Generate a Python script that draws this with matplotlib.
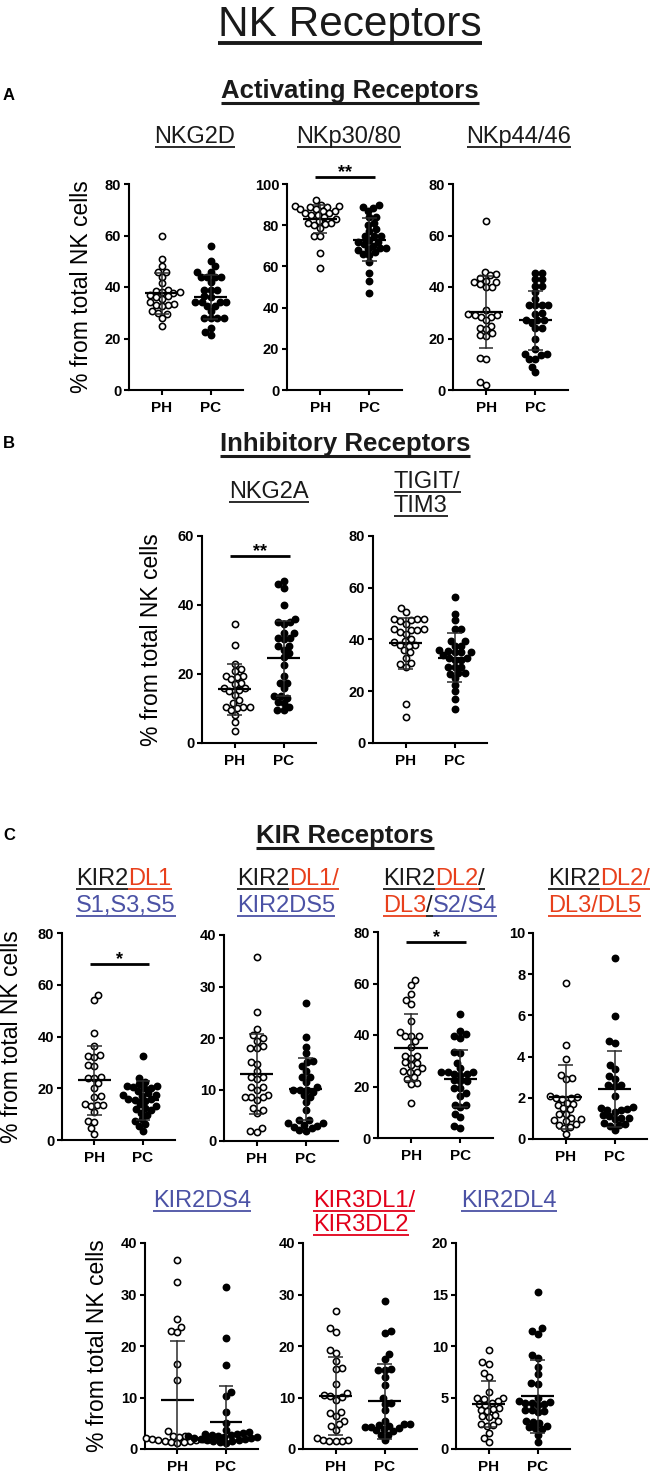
import numpy as np
import matplotlib
matplotlib.use('Agg')
import matplotlib.pyplot as plt
from matplotlib.lines import Line2D

W, H = 650, 1472
plt.rcParams['font.family'] = ['Liberation Sans', 'DejaVu Sans']

groups = ['PH', 'PC']
RED = '#e8401c'
RED2 = '#e2001a'
BLUE = '#4b52a5'

# values (% from total NK cells), mean and SD per group
nkg2d_ph = [60, 51, 48, 46, 46, 44, 41.5, 39, 38.5, 38, 38, 37.5, 37, 36.5, 36, 35.5, 34, 33.5, 33, 33, 32.5, 30.5, 30, 29.5, 28, 25]
nkg2d_pc = [56, 50, 48, 46, 46, 44, 44, 44, 44, 42, 39, 39, 39, 36.5, 36, 34, 34, 34, 34, 32.5, 32.5, 30.5, 28, 28, 28, 28, 24, 22.5, 21.5]
nkg2d_mean, nkg2d_sd = [37.5, 36.2], [8, 8.5]

nkp30_ph = [92, 90, 89.5, 89.5, 89, 89, 88, 88, 87, 87, 86, 86, 85, 85, 84, 83, 82, 81, 81, 80.5, 80, 78.5, 75, 75, 66.5, 59]
nkp30_pc = [90, 89, 88.5, 87, 84, 84, 81, 80, 78, 77, 75, 75, 75, 73, 72, 72, 71, 70, 69, 69, 68.5, 68, 67, 66, 65.5, 62, 57, 53, 47]
nkp30_mean, nkp30_sd = [83, 73], [7, 10.5]

nkp44_ph = [65.5, 46, 45, 44.5, 43.5, 42.5, 42, 42, 41, 40, 40, 31, 29.5, 29, 29, 28.5, 28.5, 27, 25, 24, 23.5, 22, 21.5, 21, 12.5, 12, 3, 2]
nkp44_pc = [45.5, 45.5, 43, 43, 40.5, 40.5, 38, 35.5, 33, 33, 33, 33, 30, 29.5, 27, 27, 27, 26, 24, 24, 20, 16, 14, 14, 13.5, 12, 12, 9, 7]
nkp44_mean, nkp44_sd = [30.3, 27], [13.8, 11.5]

nkg2a_ph = [34.5, 28.5, 23, 21.5, 21, 19.5, 19.5, 19, 18.5, 17.5, 17, 16, 16, 15.5, 15, 14, 12.5, 11.5, 10.5, 10.5, 10.5, 10, 9.5, 8, 6, 3.5]
nkg2a_pc = [47, 46, 45, 40, 36, 35, 35, 34.5, 32, 32, 30.5, 30.5, 30, 28, 28, 27, 26, 25, 22.5, 19.5, 17.5, 17.5, 16, 13.5, 13.5, 13, 12, 11.5, 10.5, 9.5, 9.5]
nkg2a_mean, nkg2a_sd = [15.6, 24.5], [7.4, 10.8]

tigit_ph = [52, 50.5, 48, 48, 48, 47.5, 47, 46, 44, 44, 43.5, 43.5, 43, 42, 40, 39.5, 39, 38, 38, 37.5, 36, 35, 33, 31, 30.5, 29.5, 15, 10]
tigit_pc = [56.5, 50, 47.5, 44, 44, 39.5, 39.5, 37.5, 37.5, 36, 35.5, 35, 35, 35, 34, 33, 33, 32, 32, 29.5, 29.5, 29.5, 27, 27, 26.5, 25, 22.5, 20, 17, 13]
tigit_mean, tigit_sd = [38.5, 33], [10, 9.5]

kir2dl1s_ph = [56, 54, 41.5, 36.5, 33, 32.5, 32, 29, 28.5, 24.5, 24, 24, 22, 20, 17, 16.5, 14, 13.5, 13.5, 13, 11, 7.5, 7, 4.5, 2.5]
kir2dl1s_pc = [32.5, 24, 22.5, 21.5, 21, 21, 20.5, 20, 20, 19, 18, 17.5, 17.5, 17, 16, 16, 15.5, 15, 14, 13, 12.5, 12, 11.5, 10.5, 9.5, 8, 7.5, 6, 5.5, 3.5]
kir2dl1s_mean, kir2dl1s_sd = [23, 15.3], [13.3, 7.5]

kir2ds5_ph = [35.8, 25, 21.8, 20.5, 20, 19.5, 18.5, 18, 18, 15.3, 15, 13.5, 12.5, 12.5, 12, 10.5, 10.5, 10, 9, 8.5, 8.5, 8.5, 8, 6.5, 6, 5.5, 2.5, 2, 1.8]
kir2ds5_pc = [26.8, 20.2, 18.3, 17, 15.5, 15.3, 14.5, 13.5, 12.5, 12.5, 11.5, 10.5, 10, 10, 10, 9.5, 9, 8.5, 7.5, 6, 4, 4, 3.5, 3.5, 3.2, 3, 2.8, 2.5, 2.2, 2]
kir2ds5_mean, kir2ds5_sd = [13, 10.1], [7.7, 6]

kir2dl2s_ph = [61.5, 59.5, 56, 53.5, 52, 45.5, 41, 39.5, 39.5, 39.5, 37.5, 35.5, 32, 32, 31, 29.5, 29, 28.5, 27, 26, 25.5, 25.5, 23.5, 23, 21.5, 21, 13.5]
kir2dl2s_pc = [48, 41.5, 40.5, 39.5, 39, 33.5, 33, 29, 27, 25.5, 25.5, 25.5, 25, 25, 24.5, 22.5, 22, 22, 19.5, 19.5, 17.5, 16.5, 13, 13, 12, 9.5, 8, 4.5, 4]
kir2dl2s_mean, kir2dl2s_sd = [35, 23], [13, 11]

kir2dl5_ph = [7.55, 4.55, 3.9, 3.1, 2.95, 2.9, 2.1, 2.05, 2.0, 2.0, 1.95, 1.75, 1.7, 1.65, 1.5, 1.45, 1.2, 1.2, 1.0, 0.95, 0.9, 0.85, 0.75, 0.7, 0.6, 0.55, 0.25]
kir2dl5_pc = [8.8, 5.95, 4.75, 4.65, 3.6, 3.4, 3.05, 2.9, 2.6, 2.6, 2.55, 2.1, 1.55, 1.5, 1.45, 1.4, 1.4, 1.3, 1.15, 1.1, 1.0, 1.0, 0.95, 0.8, 0.75, 0.7, 0.65, 0.45]
kir2dl5_mean, kir2dl5_sd = [2.03, 2.42], [1.55, 1.84]

kir2ds4_ph = [36.7, 32.4, 25.2, 23.7, 23.0, 22.7, 16.5, 13.4, 3.4, 2.6, 2.5, 2.4, 2.2, 2.1, 2.0, 2.0, 1.9, 1.8, 1.7, 1.6, 1.5, 1.4, 1.3, 1.2]
kir2ds4_pc = [31.4, 21.5, 16.3, 11.0, 10.3, 7.2, 5.0, 3.6, 3.3, 3.1, 3.0, 2.9, 2.8, 2.7, 2.6, 2.5, 2.4, 2.3, 2.2, 2.1, 2.0, 1.9, 1.8, 1.7, 1.6, 1.5, 1.3, 1.2]
kir2ds4_mean, kir2ds4_sd = [9.6, 5.2], [11.3, 7]

kir3dl_ph = [26.7, 23.4, 22.8, 19.3, 18.6, 17.0, 15.7, 15.5, 12.7, 10.8, 10.4, 10.2, 10.1, 9.6, 7.2, 7.0, 6.5, 5.5, 4.8, 4.5, 3.7, 2.2, 1.8, 1.7, 1.6, 1.6, 1.5]
kir3dl_pc = [28.8, 23.0, 22.5, 18.4, 17.5, 15.5, 15.4, 15.3, 14.0, 12.5, 10.0, 9.0, 8.8, 7.5, 5.5, 4.9, 4.8, 4.7, 4.5, 4.3, 4.2, 4.0, 3.8, 3.6, 3.5, 2.8, 2.7, 1.7]
kir3dl_mean, kir3dl_sd = [10.3, 9.3], [7.5, 7.3]

kir2dl4_ph = [9.6, 8.4, 8.3, 7.4, 7.0, 5.5, 5.0, 5.0, 4.9, 4.7, 4.5, 4.4, 4.3, 4.0, 3.9, 3.8, 3.7, 3.3, 3.2, 3.1, 2.7, 2.4, 2.3, 2.2, 1.6, 1.1, 0.7]
kir2dl4_pc = [15.2, 11.7, 11.5, 11.2, 9.1, 8.8, 8.0, 7.3, 6.4, 6.3, 5.0, 4.7, 4.6, 4.5, 4.5, 4.4, 4.3, 3.8, 3.8, 3.7, 3.6, 2.7, 2.6, 2.5, 2.2, 2.1, 2.0, 1.9, 1.4, 0.7]
kir2dl4_mean, kir2dl4_sd = [4.35, 5.1], [2.25, 3.5]

fig = plt.figure(figsize=(W / 100, H / 100), dpi=100)
rend = fig.canvas.get_renderer()

XL = (-0.67, 1.66)
DOT = 6.4  # marker spacing, px


def fx(x):
    return x / W


def fy(y):
    return 1 - y / H


def swarm(vals, ppx, ppy):
    # simple beeswarm: push each point sideways until it does not overlap
    ys = np.asarray(vals, float) * ppy
    offs = np.zeros(len(ys))
    placed = []
    for n, i in enumerate(np.argsort(ys)):
        y = ys[i]
        near = [(a, b) for a, b in placed if abs(b - y) < DOT]
        cands = [0.0]
        for a, b in near:
            dx = np.sqrt(DOT ** 2 - (b - y) ** 2)
            cands += [a + dx, a - dx]
        sgn = 1 if n % 2 else -1
        cands.sort(key=lambda c: (round(abs(c), 3), sgn * c))
        for c in cands:
            if all((c - a) ** 2 + (y - b) ** 2 >= DOT ** 2 - 1e-6 for a, b in near):
                offs[i] = c
                break
        placed.append((offs[i], y))
    return offs / ppx


def panel(box, ph, pc, mean, sd, ymax, step, ylab_x=None, sig=None):
    l, r, t, b = box
    ax = fig.add_axes([fx(l), fy(b), (r - l) / W, (b - t) / H])
    ax.set_xlim(*XL)
    ax.set_ylim(0, ymax)
    ppx = (r - l) / (XL[1] - XL[0])
    ppy = (b - t) / ymax
    for k, (vals, fc) in enumerate([(ph, 'white'), (pc, 'black')]):
        xs = k + swarm(vals, ppx, ppy)
        ax.plot(xs, vals, 'o', ms=4.5, mfc=fc, mec='black', mew=1.15,
                ls='none', clip_on=False, zorder=3)
        ax.plot([k - 0.34, k + 0.34], [mean[k]] * 2, color='black', lw=1.6,
                zorder=4, solid_capstyle='butt')
        lo, hi = mean[k] - sd[k], mean[k] + sd[k]
        ax.plot([k, k], [max(lo, 0), hi], color='#2b2b2b', lw=1.1, zorder=4)
        for yv in (lo, hi):
            if yv > 0:
                ax.plot([k - 0.15, k + 0.15], [yv, yv], color='#2b2b2b',
                        lw=1.1, zorder=4, solid_capstyle='butt')
    for s in ('top', 'right'):
        ax.spines[s].set_visible(False)
    for s in ('left', 'bottom'):
        ax.spines[s].set_linewidth(1.5)
    ax.set_yticks(np.arange(0, ymax + step / 2, step))
    ax.set_yticklabels([f'{v:g}' for v in np.arange(0, ymax + step / 2, step)],
                       fontweight='bold', fontsize=10.5)
    ax.set_xticks([0, 1])
    ax.set_xticklabels(groups, fontweight='bold', fontsize=11)
    ax.tick_params(axis='both', width=1.5, length=3.6)
    ax.tick_params(axis='y', pad=2)
    ax.tick_params(axis='x', pad=4)
    if ylab_x is not None:
        fig.text(fx(ylab_x), fy((t + b) / 2), '% from total NK cells',
                 rotation=90, ha='center', va='center', fontsize=16.5)
    if sig is not None:
        yb, stars = sig
        ax.plot([-0.1, 1.12], [yb, yb], color='black', lw=2, clip_on=False,
                solid_capstyle='butt')
        ax.text(0.51, yb, stars, ha='center', va='baseline', fontsize=13,
                fontweight='bold', clip_on=False)
    return ax


def utext(x, y, parts, size, weight='normal', ha='left', ul=4, lw=1.3):
    # text in coloured pieces, each piece underlined in its own colour
    texts = [fig.text(0, 0, s, fontsize=size, color=c, fontweight=weight,
                      va='baseline') for s, c in parts]
    widths = [t.get_window_extent(rend).width for t in texts]
    x0 = x - sum(widths) / 2 if ha == 'center' else x
    for t, w, (s, c) in zip(texts, widths, parts):
        t.set_position((fx(x0), fy(y)))
        fig.add_artist(Line2D([fx(x0), fx(x0 + w)], [fy(y + ul)] * 2,
                              color=c, lw=lw, solid_capstyle='butt'))
        x0 += w


# headings
utext(350, 36, [('NK Receptors', '#1a1a1a')], 30.5, ha='center', ul=7, lw=2.8)

fig.text(fx(3), fy(100), 'A', fontsize=12, fontweight='bold')
utext(350, 98, [('Activating Receptors', '#1a1a1a')], 18.5, weight='bold',
      ha='center', ul=5, lw=2.2)
utext(195, 143, [('NKG2D', '#1a1a1a')], 17, ha='center')
utext(349, 143, [('NKp30/80', '#1a1a1a')], 17, ha='center')
utext(519, 143, [('NKp44/46', '#1a1a1a')], 17, ha='center')

fig.text(fx(3), fy(448), 'B', fontsize=12, fontweight='bold')
utext(345, 451, [('Inhibitory Receptors', '#1a1a1a')], 18.5, weight='bold',
      ha='center', ul=5, lw=2.2)
utext(269, 498, [('NKG2A', '#1a1a1a')], 17, ha='center')
utext(394, 488, [('TIGIT/', '#1a1a1a')], 17)
utext(394, 512, [('TIM3', '#1a1a1a')], 17)

fig.text(fx(3), fy(840), 'C', fontsize=12, fontweight='bold')
utext(345, 843, [('KIR Receptors', '#1a1a1a')], 18.5, weight='bold',
      ha='center', ul=5, lw=2.2)
utext(76, 885, [('KIR2', '#1a1a1a'), ('DL1', RED)], 17)
utext(76, 912, [('S1,S3,S5', BLUE)], 17)
utext(237, 885, [('KIR2', '#1a1a1a'), ('DL1/', RED)], 17)
utext(237, 912, [('KIR2DS5', BLUE)], 17)
utext(383, 885, [('KIR2', '#1a1a1a'), ('DL2', RED), ('/', '#1a1a1a')], 17)
utext(383, 912, [('DL3', RED), ('/', '#1a1a1a'), ('S2/S4', BLUE)], 17)
utext(548, 885, [('KIR2', '#1a1a1a'), ('DL2/', RED)], 17)
utext(548, 912, [('DL3/DL5', RED)], 17)
utext(153, 1207, [('KIR2DS4', BLUE)], 17)
utext(313, 1207, [('KIR3DL1/', RED2)], 17)
utext(313, 1231, [('KIR3DL2', RED2)], 17)
utext(461, 1207, [('KIR2DL4', BLUE)], 17)

# panels
panel((129, 243, 184, 390), nkg2d_ph, nkg2d_pc, nkg2d_mean, nkg2d_sd, 80, 20, ylab_x=81)
panel((287, 402, 184, 390), nkp30_ph, nkp30_pc, nkp30_mean, nkp30_sd, 100, 20, sig=(103.4, '**'))
panel((453, 568, 184, 390), nkp44_ph, nkp44_pc, nkp44_mean, nkp44_sd, 80, 20)

panel((202, 316, 536, 743), nkg2a_ph, nkg2a_pc, nkg2a_mean, nkg2a_sd, 60, 20, ylab_x=152, sig=(54.2, '**'))
panel((373, 487, 536, 743), tigit_ph, tigit_pc, tigit_mean, tigit_sd, 80, 20)

panel((62, 175, 933, 1140), kir2dl1s_ph, kir2dl1s_pc, kir2dl1s_mean, kir2dl1s_sd, 80, 20, ylab_x=12, sig=(68, '*'))
panel((224, 338, 935, 1141), kir2ds5_ph, kir2ds5_pc, kir2ds5_mean, kir2ds5_sd, 40, 10)
panel((378, 493, 932, 1138), kir2dl2s_ph, kir2dl2s_pc, kir2dl2s_mean, kir2dl2s_sd, 80, 20, sig=(76, '*'))
panel((533, 647, 933, 1139), kir2dl5_ph, kir2dl5_pc, kir2dl5_mean, kir2dl5_sd, 10, 2)

panel((145, 258, 1243, 1449), kir2ds4_ph, kir2ds4_pc, kir2ds4_mean, kir2ds4_sd, 40, 10, ylab_x=98)
panel((303, 417, 1243, 1449), kir3dl_ph, kir3dl_pc, kir3dl_mean, kir3dl_sd, 40, 10)
panel((456, 570, 1243, 1449), kir2dl4_ph, kir2dl4_pc, kir2dl4_mean, kir2dl4_sd, 20, 5)

fig.savefig('out.png', dpi=100)
